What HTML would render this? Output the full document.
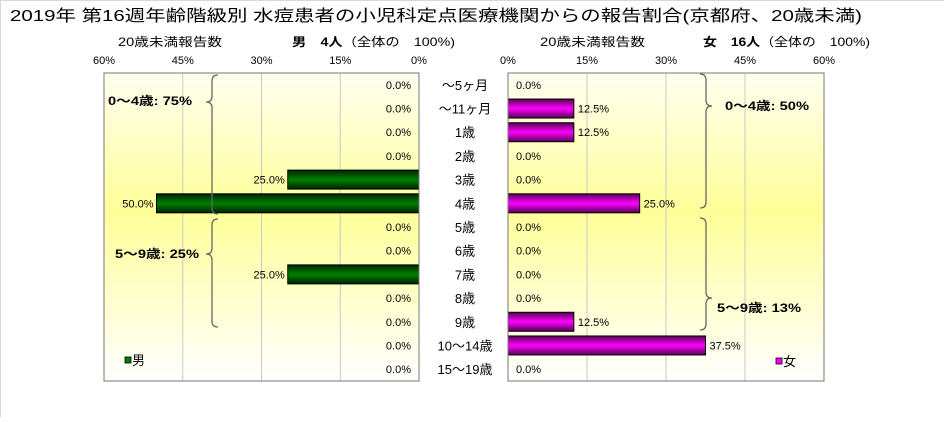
<!DOCTYPE html>
<html><head><meta charset="utf-8">
<style>
html,body{margin:0;padding:0;background:#fff;}
body{width:944px;height:417px;overflow:hidden;font-family:"Liberation Sans","Noto Sans CJK JP",sans-serif;}
svg text{font-family:"Liberation Sans","Noto Sans CJK JP",sans-serif;}
</style></head>
<body>
<svg id="chart" width="944" height="417" viewBox="0 0 944 417" xmlns="http://www.w3.org/2000/svg">
<defs>
<linearGradient id="bg" x1="0" y1="0" x2="0" y2="1">
<stop offset="0" stop-color="#fffff0"/><stop offset="0.45" stop-color="#ffff99"/><stop offset="1" stop-color="#ffffff"/>
</linearGradient>
<linearGradient id="gGreen" x1="0" y1="0" x2="0" y2="1">
<stop offset="0" stop-color="#002200"/><stop offset="0.5" stop-color="#008000"/><stop offset="1" stop-color="#002200"/>
</linearGradient>
<linearGradient id="gMag" x1="0" y1="0" x2="0" y2="1">
<stop offset="0" stop-color="#550055"/><stop offset="0.5" stop-color="#ff00ff"/><stop offset="1" stop-color="#550055"/>
</linearGradient>
</defs>
<line x1="0" y1="0.5" x2="944" y2="0.5" stroke="#d8d8d8"/>
<line x1="0.5" y1="0" x2="0.5" y2="417" stroke="#d8d8d8"/>
<text x="10" y="21" font-size="16" textLength="852" lengthAdjust="spacingAndGlyphs">2019年 第16週年齢階級別 水痘患者の小児科定点医療機関からの報告割合(京都府、20歳未満)</text>
<text x="118" y="46" font-size="12" textLength="104" lengthAdjust="spacingAndGlyphs">20歳未満報告数</text>
<text x="292" y="46" font-size="12" textLength="163" lengthAdjust="spacingAndGlyphs"><tspan font-weight="bold">男　4人</tspan>（全体の　100%)</text>
<text x="540" y="46" font-size="12" textLength="105" lengthAdjust="spacingAndGlyphs">20歳未満報告数</text>
<text x="703" y="46" font-size="12" textLength="167" lengthAdjust="spacingAndGlyphs"><tspan font-weight="bold">女　16人</tspan>（全体の　100%)</text>
<g id="left"></g>
<g id="right"></g>
<g id="cats"></g>
</svg>
<script>
const categories = ["～5ヶ月","～11ヶ月","1歳","2歳","3歳","4歳","5歳","6歳","7歳","8歳","9歳","10～14歳","15～19歳"];
const maleValues = [0,0,0,0,25,50,0,0,25,0,0,0,0];
const femaleValues = [0,12.5,12.5,0,0,25,0,0,0,0,12.5,37.5,0];
const tickValues = [0,15,30,45,60];
const tickLabels = ["0%","15%","30%","45%","60%"];
const groupLabelsMale = ["0～4歳: 75%","5～9歳: 25%"];
const groupLabelsFemale = ["0～4歳: 50%","5～9歳: 13%"];

const NS="http://www.w3.org/2000/svg";
const svg=document.getElementById('chart');
const top0=73, plotH=308, maxV=60;
const L={x0:104,x1:419}, R={x0:508,x1:824};
const rowH=plotH/categories.length;
function yC(i){return top0+rowH*(i+0.5);}
function xL(v){return L.x1-(L.x1-L.x0)*v/maxV;}
function xR(v){return R.x0+(R.x1-R.x0)*v/maxV;}
function mk(tag,attrs,parent){const e=document.createElementNS(NS,tag);for(const k in attrs)e.setAttribute(k,attrs[k]);(parent||svg).appendChild(e);return e;}
function fmt(v){return v.toFixed(1)+"%";}

function panel(side){
  const g=document.getElementById(side);
  const x0=side==='left'?L.x0:R.x0, x1=side==='left'?L.x1:R.x1;
  const xf=side==='left'?xL:xR;
  const bgR=mk('rect',{x:x0,y:top0,width:x1-x0,height:plotH,fill:'url(#bg)'},g);
  
  
  tickValues.forEach((t,i)=>{
    const x=xf(t);
    if(t>0&&t<maxV){
      const gl=mk('line',{x1:x,x2:x,y1:top0,y2:top0+plotH,stroke:'#c8c8c8','stroke-width':1},g);
      
      
    }
    const tl=mk('text',{x:x,y:64,'text-anchor':'middle','font-size':11},g);
    
    
    tl.textContent=tickLabels[i];
  });
  const vals=side==='left'?maleValues:femaleValues;
  vals.forEach((v,i)=>{
    const y=yC(i);
    if(v>0){
      const xa=xf(v), xb=xf(0);
      const b=mk('rect',{x:Math.min(xa,xb),y:y-9.5,width:Math.abs(xb-xa),height:19,fill:side==='left'?'url(#gGreen)':'url(#gMag)',stroke:'#000','stroke-width':1},g);
      
      
    }
    let tx,anchor;
    if(side==='left'){ tx=v>0?xf(v)-3:L.x1-8; anchor='end'; }
    else { tx=v>0?xf(v)+4:R.x0+8; anchor='start'; }
    const t=mk('text',{x:tx,y:y+4,'text-anchor':anchor,'font-size':11},g);
    
    
    t.textContent=fmt(v);
  });
  const fr=mk('rect',{x:x0,y:top0,width:x1-x0,height:plotH,fill:'none',stroke:'#777','stroke-width':1},g);
  
  
}
panel('left');panel('right');

categories.forEach((c,i)=>{
  const t=mk('text',{x:465,y:yC(i)+5,'text-anchor':'middle','font-size':13},document.getElementById('cats'));
  
  
  t.textContent=c;
});

function brace(x,y1,y2,yp,dir){
  const r=6, d=dir*r;
  const p=`M${x-d},${y1} Q${x},${y1} ${x},${y1+r} L${x},${yp-r} Q${x},${yp} ${x+d},${yp} Q${x},${yp} ${x},${yp+r} L${x},${y2-r} Q${x},${y2} ${x-d},${y2}`;
  const e=mk('path',{d:p,fill:'none',stroke:'#666','stroke-width':1.3});
  
  
}
function glabel(x,y,s){
  const t=mk('text',{x:x,y:y,'font-size':12,'font-weight':'bold',textLength:84,lengthAdjust:'spacingAndGlyphs'});
  
  
  t.textContent=s;
}
brace(212,75,214,102,-1); glabel(108,105,groupLabelsMale[0]);
brace(212,219,327,254,-1); glabel(115,258,groupLabelsMale[1]);
brace(706,74,208,106,1); glabel(725,110,groupLabelsFemale[0]);
brace(706,218,330,298,1); glabel(717,312,groupLabelsFemale[1]);

const lm=mk('rect',{x:125,y:357,width:6,height:6,fill:'#008000',stroke:'#000','stroke-width':0.8});


const lmt=mk('text',{x:132,y:365,'font-size':13});


lmt.textContent='男';
const lf=mk('rect',{x:776,y:358,width:6,height:6,fill:'#ff00ff',stroke:'#000','stroke-width':0.8});


const lft=mk('text',{x:783,y:366,'font-size':13});


lft.textContent='女';
</script>
</body></html>
